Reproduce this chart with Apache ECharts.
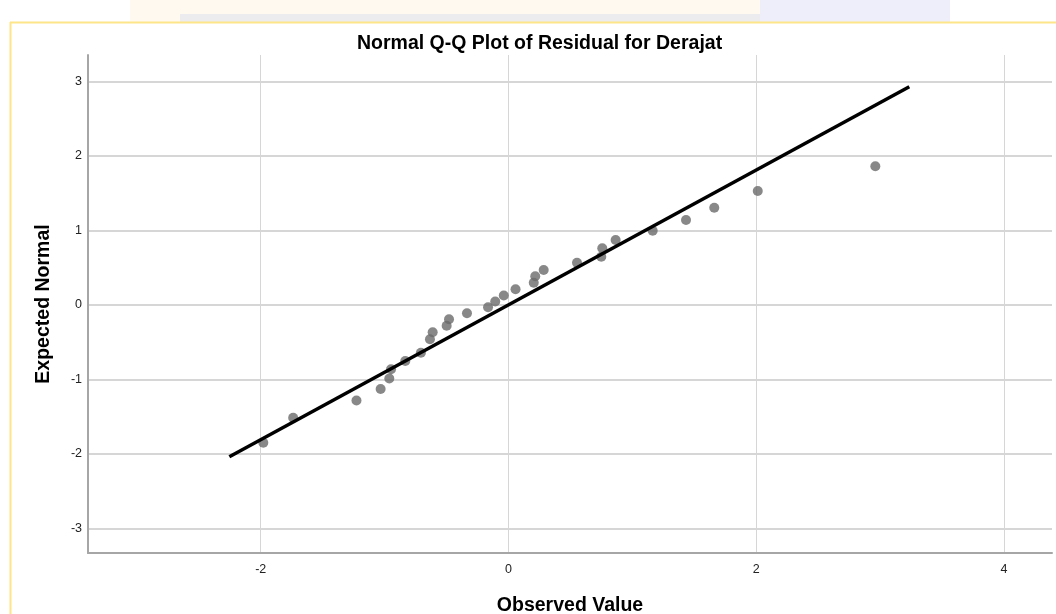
<!DOCTYPE html>
<html>
<head>
<meta charset="utf-8">
<script src="https://cdn.jsdelivr.net/npm/echarts@6/dist/echarts.min.js"></script>
<style>html,body{margin:0;padding:0;background:#fff;}#c{width:1056px;height:614px;}</style>
</head>
<body>
<div id="c"></div>
<script>
const observed = [-1.979,-1.738,-1.227,-1.032,-0.962,-0.948,-0.833,-0.707,-0.634,-0.612,-0.499,-0.480,-0.335,-0.165,-0.107,-0.038,0.057,0.204,0.216,0.284,0.553,0.749,0.757,0.865,1.164,1.433,1.661,2.012,2.961];
const expected = [-1.848,-1.513,-1.282,-1.128,-0.987,-0.863,-0.752,-0.640,-0.460,-0.366,-0.278,-0.192,-0.111,-0.031,0.047,0.128,0.211,0.299,0.385,0.470,0.568,0.648,0.761,0.872,0.997,1.141,1.306,1.530,1.862];
const refLineX = [-2.253, 3.235];
const refLineY = [-2.036, 2.930];
const xTicks = [-2, 0, 2, 4];
const yTicks = [-3, -2, -1, 0, 1, 2, 3];

const pts = observed.map((v, i) => [v, expected[i]]);
const linePts = refLineX.map((v, i) => [v, refLineY[i]]);
const FONT = '"Liberation Sans", Arial, sans-serif';

const chart = echarts.init(document.getElementById('c'), null, {renderer: 'canvas'});
chart.setOption({
  backgroundColor: '#ffffff',
  animation: false,
  title: {
    text: 'Normal Q-Q Plot of Residual for Derajat',
    left: 352, top: 29,
    textStyle: {fontFamily: FONT, fontSize: 19.5, fontWeight: 'bold', color: '#000'}
  },
  graphic: [
    {type: 'rect', shape: {x: 130, y: 0, width: 630, height: 22}, style: {fill: 'rgba(255,215,160,0.16)'}, silent: true},
    {type: 'rect', shape: {x: 180, y: 14, width: 580, height: 8}, style: {fill: 'rgba(150,170,230,0.18)'}, silent: true},
    {type: 'rect', shape: {x: 760, y: 0, width: 190, height: 22}, style: {fill: 'rgba(160,160,230,0.18)'}, silent: true},
    {type: 'line', shape: {x1: 10, y1: 22.5, x2: 1056, y2: 22.5}, style: {stroke: '#fde68a', lineWidth: 2}, silent: true},
    {type: 'line', shape: {x1: 10.5, y1: 22, x2: 10.5, y2: 614}, style: {stroke: '#fde68a', lineWidth: 2}, silent: true}
  ],
  grid: {left: 88, right: 4, top: 55, bottom: 61, containLabel: false, outerBoundsMode: 'none'},
  xAxis: {
    type: 'value', min: -3.394, max: 4.387,
    name: 'Observed Value', nameLocation: 'middle', nameGap: 43,
    nameTextStyle: {fontFamily: FONT, fontSize: 19.5, fontWeight: 'bold', color: '#000'},
    axisLine: {onZero: false, lineStyle: {color: '#a6a6a6', width: 2}},
    axisTick: {show: false, customValues: xTicks},
    axisLabel: {customValues: xTicks, margin: 10, fontFamily: FONT, fontSize: 12.5, color: '#222'},
    splitLine: {show: true, lineStyle: {color: '#d6d6d6', width: 1}}
  },
  yAxis: {
    type: 'value', min: -3.329, max: 3.356,
    name: 'Expected Normal', nameLocation: 'middle', nameGap: 34, nameRotate: 90,
    nameTextStyle: {fontFamily: FONT, fontSize: 19.5, fontWeight: 'bold', color: '#000'},
    axisLine: {show: true, onZero: false, lineStyle: {color: '#a6a6a6', width: 2}},
    axisTick: {show: false, customValues: yTicks},
    axisLabel: {customValues: yTicks, margin: 6, fontFamily: FONT, fontSize: 12.5, color: '#222'},
    splitLine: {show: true, lineStyle: {color: '#d6d6d6', width: 2}}
  },
  series: [
    {type: 'scatter', data: pts, symbol: 'circle', symbolSize: 10,
     itemStyle: {color: '#6a6a6a'}, z: 2},
    {type: 'line', data: linePts, showSymbol: false, symbol: 'none',
     lineStyle: {color: '#000', width: 3.5}, z: 3}
  ]
});
</script>
</body>
</html>
